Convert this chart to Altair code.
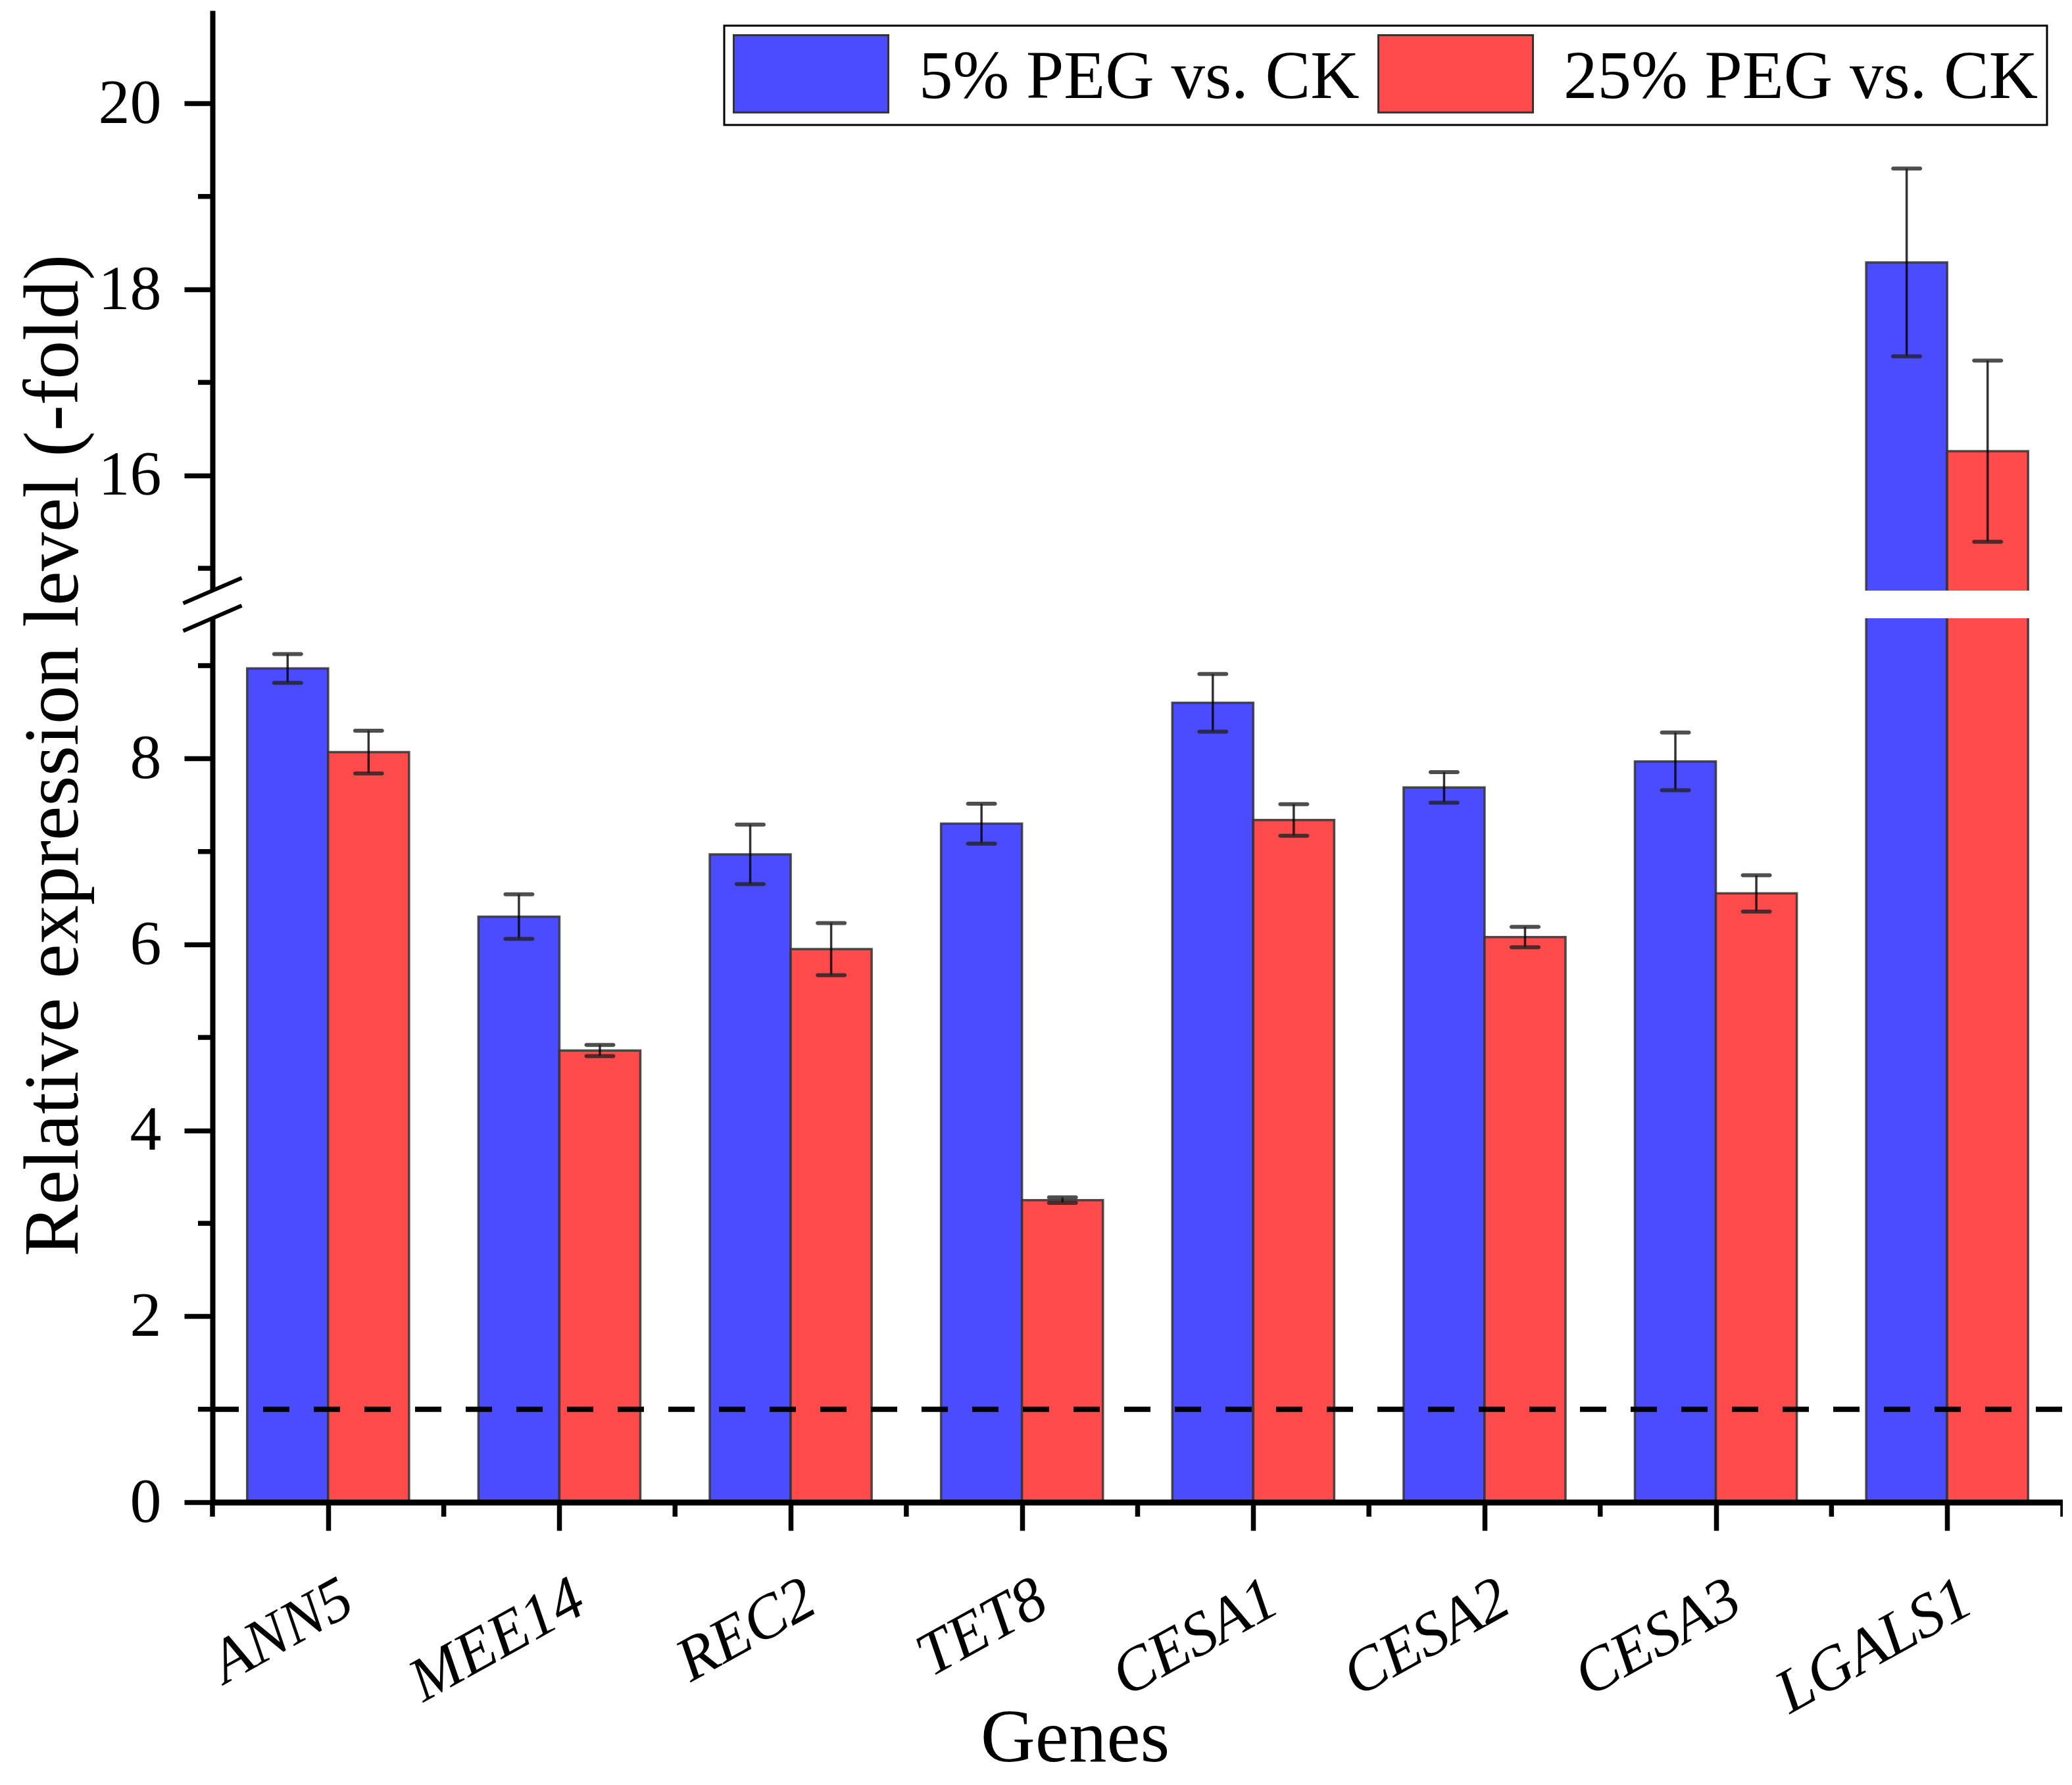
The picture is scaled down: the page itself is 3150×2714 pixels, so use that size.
import altair as alt
import pandas as pd

# ---------------- data ----------------
genes = ["ANN5", "MEE14", "REC2", "TET8", "CESA1", "CESA2", "CESA3", "LGALS1"]
series = ["5% PEG vs. CK", "25% PEG vs. CK"]
peg5_mean = [8.97, 6.30, 6.97, 7.30, 8.60, 7.69, 7.97, 18.29]
peg5_err = [0.155, 0.24, 0.32, 0.215, 0.31, 0.165, 0.31, 1.01]
peg25_mean = [8.07, 4.86, 5.95, 3.25, 7.34, 6.08, 6.55, 16.26]
peg25_err = [0.23, 0.06, 0.28, 0.03, 0.17, 0.11, 0.195, 0.975]
colors = ["#4B4BFF", "#FF4B4B"]

y_major = [0, 2, 4, 6, 8, 16, 18, 20]
y_minor = [1, 3, 5, 7, 9, 15, 17, 19]
break_low, break_high = 9.51, 14.76   # axis break
y_top = 21
ref_level = 1

# ---------------- layout (pixels) ----------------
W, H = 2813, 2268
gap_top_px, gap_bot_px = 882, 924
bar_w = 0.35  # fraction of a category slot

rows = []
for i, g in enumerate(genes):
    for s, (means, errs) in enumerate([(peg5_mean, peg5_err), (peg25_mean, peg25_err)]):
        x0 = i + 0.15 + s * bar_w
        rows.append(dict(gene=g, series=series[s], mean=means[i], err=errs[i],
                         x0=x0, x1=x0 + bar_w, xc=x0 + bar_w / 2,
                         lo=means[i] - errs[i], hi=means[i] + errs[i]))
df = pd.DataFrame(rows)

FONT = "Liberation Serif"
xscale = alt.Scale(domain=[0, len(genes)], nice=False, zero=False)
yscale = alt.Scale(domain=[0, break_low, break_high, y_top],
                   range=[H, gap_bot_px, gap_top_px, 0], nice=False, zero=False)

genes_js = "[" + ",".join("'%s'" % g for g in genes) + "]"

x_axis = alt.Axis(values=[i + 0.5 for i in range(len(genes))],
                  labelExpr=genes_js + "[floor(datum.value)]",
                  tickSize=43, tickWidth=7.5, tickColor="black",
                  domainWidth=9, domainColor="black",
                  labelAngle=-29, labelAlign="right", labelBaseline="top",
                  labelPadding=57, labelOffset=8, labelFontStyle="italic",
                  labelFont=FONT, labelFontSize=94, labelColor="black",
                  labelLimit=2000, labelFlush=False, labelOverlap=False,
                  title="Genes", titleFont=FONT, titleFontSize=115,
                  titleFontWeight="normal", titleColor="black",
                  titleX=1311, titleY=393, titleBaseline="alphabetic",
                  titleAlign="center", grid=False, zindex=1)

y_axis = alt.Axis(values=y_major, format="d", tickSize=43, tickWidth=7.5, tickColor="black",
                  domainWidth=8, domainColor="black",
                  labelFont=FONT, labelFontSize=96, labelColor="black",
                  labelPadding=35, labelFlush=False, labelOverlap=False, labelLimit=2000,
                  title="Relative expression level (-fold)", titleFont=FONT,
                  titleFontSize=118, titleFontWeight="normal", titleColor="black",
                  titleX=-206, titleY=H / 2 - 2, titleAngle=-90,
                  titleBaseline="alphabetic", titleAlign="center", titleLimit=4000,
                  grid=False, zindex=0)

base = alt.Chart(df)

bars = base.mark_bar(stroke="#333333", strokeWidth=3.5, strokeOpacity=0.85).encode(
    x=alt.X("x0:Q", scale=xscale, axis=x_axis),
    x2="x1:Q",
    y=alt.Y("mean:Q", scale=yscale, axis=y_axis),
    y2=alt.datum(0),
    color=alt.Color("series:N", scale=alt.Scale(domain=series, range=colors),
                    legend=alt.Legend(title=None, orient="none", legendX=778, legendY=23,
                                      direction="horizontal", columns=2,
                                      symbolType="M-1,-1H1V0H-1Z", symbolSize=55225,
                                      symbolStrokeColor="#333333", symbolStrokeWidth=3,
                                      symbolOpacity=1,
                                      labelFont=FONT, labelFontSize=103, labelColor="black",
                                      labelBaseline="bottom",
                                      labelLimit=3000, labelOffset=45, columnPadding=22,
                                      padding=13, strokeColor="black")),
)

gap = alt.Chart(pd.DataFrame({"a": [0]})).mark_rect(color="white").encode(
    y=alt.Y(datum=break_low, scale=yscale),
    y2=alt.datum(break_high),
    x=alt.value(-8), x2=alt.value(W),
)

err_rule = base.mark_rule(color="black", strokeWidth=3.5, opacity=0.8).encode(
    x=alt.X("xc:Q", scale=xscale),
    y=alt.Y("lo:Q", scale=yscale),
    y2="hi:Q",
)
cap_lo = base.mark_tick(orient="horizontal", size=47, thickness=6, color="#222222",
                        opacity=0.8, cornerRadius=3).encode(
    x=alt.X("xc:Q", scale=xscale),
    y=alt.Y("lo:Q", scale=yscale),
)
cap_hi = base.mark_tick(orient="horizontal", size=47, thickness=6, color="#222222",
                        opacity=0.8, cornerRadius=3).encode(
    x=alt.X("xc:Q", scale=xscale),
    y=alt.Y("hi:Q", scale=yscale),
)

dash = alt.Chart(pd.DataFrame({"a": [0]})).mark_rule(
    color="black", strokeWidth=8, strokeDash=[40, 37]).encode(
    y=alt.Y(datum=ref_level, scale=yscale),
    x=alt.value(0), x2=alt.value(W),
)

ymin_ticks = alt.Chart(pd.DataFrame({"v": y_minor})).mark_rule(
    color="black", strokeWidth=7.5).encode(
    y=alt.Y("v:Q", scale=yscale),
    x=alt.value(-22), x2=alt.value(0),
)
xmin_ticks = alt.Chart(pd.DataFrame({"v": list(range(len(genes) + 1))})).mark_rule(
    color="black", strokeWidth=7.5).encode(
    x=alt.X("v:Q", scale=xscale),
    y=alt.value(H), y2=alt.value(H + 22),
)

slashes = alt.Chart(pd.DataFrame({"v": [break_high, break_low]})).mark_point(
    shape="M-1,0.43L1,-0.43", filled=False, size=7921, strokeWidth=6,
    color="black", opacity=1).encode(
    y=alt.Y("v:Q", scale=yscale),
    x=alt.value(0),
)

chart = alt.layer(bars, gap, err_rule, cap_lo, cap_hi, dash, ymin_ticks, xmin_ticks, slashes).properties(
    width=W, height=H,
    padding={"left": 315, "top": 8, "right": 0, "bottom": 418},
    autosize=alt.AutoSizeParams(type="none"),
    background="white",
).configure_view(stroke=None).configure_legend(strokeWidth=3)

chart.save("out.html", embed_options={"renderer": "svg", "actions": False})
